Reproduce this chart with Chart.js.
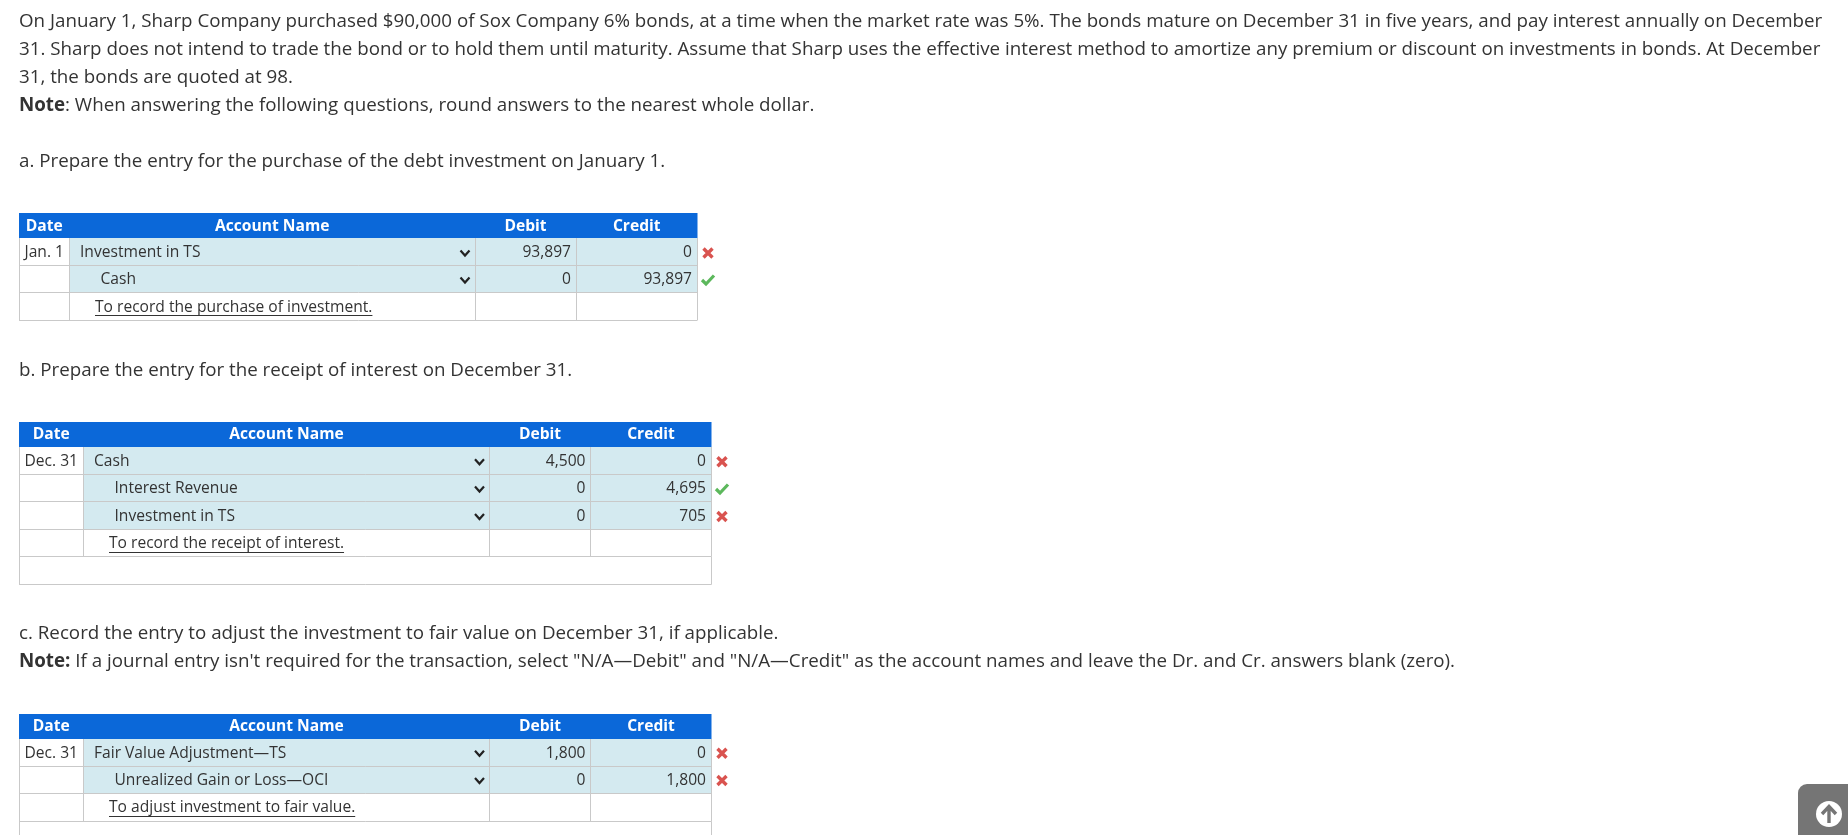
<!DOCTYPE html>
<html><head><meta charset="utf-8">
<style>html,body{margin:0;padding:0;background:#fff;overflow:hidden}canvas{display:block}</style>
<script src="https://cdn.jsdelivr.net/npm/chart.js@4"></script>
</head><body><canvas id="c" width="1848" height="835" style="width:1848px;height:835px"></canvas>
<script>
// ---- content ----
const introLines = [
 "On January 1, Sharp Company purchased $90,000 of Sox Company 6% bonds, at a time when the market rate was 5%. The bonds mature on December 31 in five years, and pay interest annually on December",
 "31. Sharp does not intend to trade the bond or to hold them until maturity. Assume that Sharp uses the effective interest method to amortize any premium or discount on investments in bonds. At December",
 "31, the bonds are quoted at 98."
];
const noteA = ["Note", ": When answering the following questions, round answers to the nearest whole dollar."];
const promptA = "a. Prepare the entry for the purchase of the debt investment on January 1.";
const promptB = "b. Prepare the entry for the receipt of interest on December 31.";
const promptC = "c. Record the entry to adjust the investment to fair value on December 31, if applicable.";
const noteC = ["Note:", " If a journal entry isn't required for the transaction, select \"N/A\u2014Debit\" and \"N/A\u2014Credit\" as the account names and leave the Dr. and Cr. answers blank (zero)."];
const headers = ["Date","Account Name","Debit","Credit"];

const datesA = "Jan. 1";
const accountsA = ["Investment in TS","Cash"];
const debitA = [93897,0];
const creditA = [0,93897];
const marksA = ["x","check"];
const memoA = "To record the purchase of investment.";

const datesB = "Dec. 31";
const accountsB = ["Cash","Interest Revenue","Investment in TS"];
const debitB = [4500,0,0];
const creditB = [0,4695,705];
const marksB = ["x","check","x"];
const memoB = "To record the receipt of interest.";

const datesC = "Dec. 31";
const accountsC = ["Fair Value Adjustment\u2014TS","Unrealized Gain or Loss\u2014OCI"];
const debitC = [1800,0];
const creditC = [0,1800];
const marksC = ["x","x"];
const memoC = "To adjust investment to fair value.";

// ---- layout & style ----
const FONT = '"Open Sans"';
const BODY = 18.76, CELL = 15.6;
const C = {text:'#333333',head:'#0b68d9',cell:'#d4eaf0',line:'#c9c9c9',red:'#d9534f',green:'#5cb85c',btn:'#757575'};
const layouts = [
 {date:datesA,acc:accountsA,deb:debitA,cre:creditA,marks:marksA,memo:memoA,dy:1.5,hdy:1,cols:[19,69.5,475,576,697.5],ys:[213,238,265,292,320],extra:null},
 {date:datesB,acc:accountsB,deb:debitB,cre:creditB,marks:marksB,memo:memoB,dy:1,hdy:0.5,cols:[19,83.5,489.5,590.5,711.5],ys:[422,447,474.5,501.5,529.5,556.5],extra:584.5},
 {date:datesC,acc:accountsC,deb:debitC,cre:creditC,marks:marksC,memo:memoC,dy:0.5,hdy:0.5,cols:[19,83.5,489.5,590.5,711.5],ys:[714,739,766.5,793.5,821.5],extra:860}
];
function rowMid(t,r){return (t.ys[r+1]+t.ys[r+2])/2+t.dy;}
function pts(key,colIdx,pad){const out=[];layouts.forEach(t=>t[key].forEach((v,r)=>out.push({x:t.cols[colIdx]-pad,y:rowMid(t,r),v})));return out;}

const debitPoints = pts('deb',3,5);
const creditPoints = pts('cre',4,5.5);

const tablePlugin = {
 id:'sheet',
 beforeDatasetsDraw(chart){
  const g=chart.ctx,X=chart.scales.x,Y=chart.scales.y;
  const px=v=>X.getPixelForValue(v),py=v=>Y.getPixelForValue(v);
  g.save();
  const text=(s,x,y,o={})=>{
   g.font=`${o.bold?'700':'400'} ${o.size||BODY}px ${FONT}`;
   g.fillStyle=o.color||C.text;g.textAlign=o.align||'left';g.textBaseline='middle';
   g.fillText(s,px(x),py(y));
   const w=g.measureText(s).width;
   if(o.under){g.strokeStyle=C.text;g.lineWidth=1;g.beginPath();g.moveTo(px(x),Math.floor(py(y))+8.5);g.lineTo(px(x)+w,Math.floor(py(y))+8.5);g.stroke();}
   return w;
  };
  const lineH=(x0,x1,y)=>{g.beginPath();g.moveTo(px(x0),Math.floor(py(y))+.5);g.lineTo(px(x1),Math.floor(py(y))+.5);g.stroke();};
  const lineV=(x,y0,y1)=>{g.beginPath();g.moveTo(Math.floor(px(x))+.5,py(y0));g.lineTo(Math.floor(px(x))+.5,py(y1));g.stroke();};
  // prose
  introLines.forEach((l,i)=>text(l,19,21.5+28*i));
  let w=text(noteA[0],19,105.5,{bold:true}); text(noteA[1],19+w,105.5);
  text(promptA,19,161.5); text(promptB,19,371); text(promptC,19,634);
  w=text(noteC[0],19,662,{bold:true}); text(noteC[1],19+w,662);
  // tables
  layouts.forEach(t=>{
   const c=t.cols,y=t.ys,n=t.acc.length;
   g.fillStyle=C.head;g.fillRect(px(c[0]),py(y[0]),px(c[4])-px(c[0]),py(y[1])-py(y[0]));
   g.fillStyle=C.cell;g.fillRect(px(c[1]),py(y[1]),px(c[4])-px(c[1]),py(y[n+1])-py(y[1]));
   g.strokeStyle=C.line;g.lineWidth=1;
   const last=y[y.length-1];
   for(let i=2;i<y.length;i++) lineH(c[0],c[4],y[i]);
   if(t.extra){lineH(c[0],c[4],t.extra);lineV(c[0],last,t.extra);lineV(c[4],last,t.extra);}
   [0,1,2,3,4].forEach(k=>lineV(c[k],y[1],last));
   // header
   const hy=(y[0]+y[1])/2+t.hdy;
   [0,1,2,3].forEach(k=>text(headers[k],(c[k]+c[k+1])/2,hy,{bold:true,color:'#fff',size:CELL,align:'center'}));
   // rows
   t.acc.forEach((a,r)=>{
    const m=rowMid(t,r);
    if(r===0) text(t.date,c[0]+(c[1]-c[0])/2,m,{size:CELL,align:'center'});
    text(a,c[1]+10.5+(r?20.5:0),m,{size:CELL});
    // chevron
    const cx=px(c[2]-10),cy=py(m);
    g.strokeStyle='#222';g.lineWidth=2.2;g.beginPath();g.moveTo(cx-4.5,cy-2.5);g.lineTo(cx,cy+2.5);g.lineTo(cx+4.5,cy-2.5);g.stroke();
    g.strokeStyle=C.line;g.lineWidth=1;
    // mark
    const mx=px(c[4]+10.5);
    g.lineCap='butt';
    if(t.marks[r]==='x'){
     g.strokeStyle=C.red;g.lineWidth=3.4;g.beginPath();g.moveTo(mx-4.5,cy-4.5);g.lineTo(mx+4.5,cy+4.5);g.moveTo(mx+4.5,cy-4.5);g.lineTo(mx-4.5,cy+4.5);g.stroke();
    } else {
     g.strokeStyle=C.green;g.lineWidth=3.2;g.beginPath();g.moveTo(mx-6,cy);g.lineTo(mx-2,cy+4);g.lineTo(mx+6,cy-4.5);g.stroke();
    }
    g.strokeStyle=C.line;g.lineWidth=1;
   });
   text(t.memo,c[1]+25.5,rowMid(t,n),{size:CELL,under:true});
  });
  // scroll-top button
  g.fillStyle=C.btn;g.beginPath();g.roundRect(px(1798),py(784),px(1848+20)-px(1798),py(835+20)-py(784),9);g.fill();
  g.fillStyle='#fff';g.beginPath();g.arc(px(1829),py(814),13,0,Math.PI*2);g.fill();
  g.strokeStyle=C.btn;g.lineWidth=3.4;g.beginPath();g.moveTo(px(1829),py(823));g.lineTo(px(1829),py(807));g.moveTo(px(1822),py(814));g.lineTo(px(1829),py(806.5));g.lineTo(px(1836),py(814));g.stroke();
  g.restore();
 },
 afterDatasetsDraw(chart){
  const g=chart.ctx;g.save();
  g.font=`400 ${CELL}px ${FONT}`;g.fillStyle=C.text;g.textAlign='right';g.textBaseline='middle';
  chart.data.datasets.forEach((ds,i)=>{
   chart.getDatasetMeta(i).data.forEach((el,j)=>g.fillText(ds.data[j].v.toLocaleString('en-US'),el.x,el.y));
  });
  g.restore();
 }
};

new Chart(document.getElementById('c'),{
 type:'scatter',
 data:{datasets:[
  {label:'Debit',data:debitPoints,pointRadius:0},
  {label:'Credit',data:creditPoints,pointRadius:0}
 ]},
 options:{
  responsive:false,animation:false,devicePixelRatio:1,
  layout:{padding:0},
  plugins:{legend:{display:false},tooltip:{enabled:false},title:{display:false}},
  scales:{
   x:{type:'linear',min:0,max:1848,display:false},
   y:{type:'linear',min:0,max:835,reverse:true,display:false}
  }
 },
 plugins:[tablePlugin]
});
</script></body></html>
